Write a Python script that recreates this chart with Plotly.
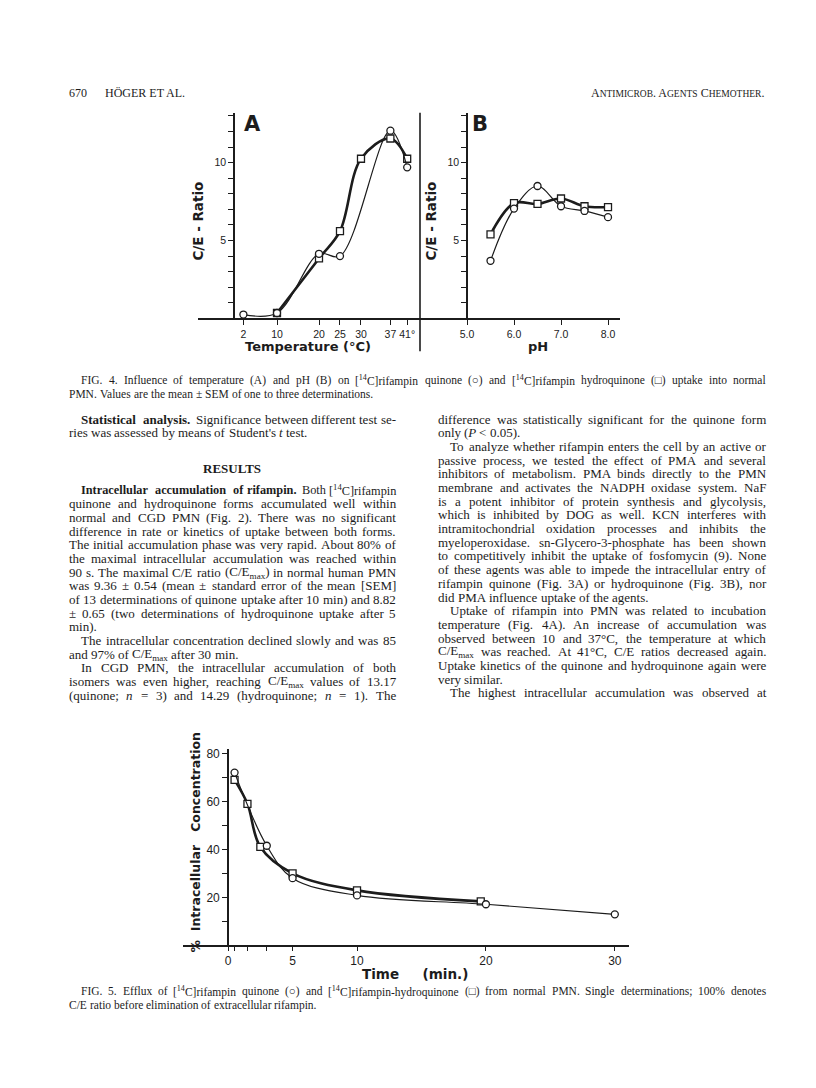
import re
import plotly.graph_objects as go

W, H = 816, 1088

# ---- Fig. 4A: temperature vs C/E ratio ----
temp_quinone = [2, 10, 20, 25, 37, 41]
ce_temp_quinone = [0.25, 0.35, 4.15, 4.0, 12.05, 9.7]
temp_hydro = [10, 20, 25, 30, 37, 41]
ce_temp_hydro = [0.35, 3.85, 5.6, 10.25, 11.55, 10.25]
temp_ticks = [2, 10, 20, 25, 30, 37, 41]
temp_ticktext = ["2", "10", "20", "25", "30", "37", "41°"]

# ---- Fig. 4B: pH vs C/E ratio ----
ph_vals = [5.5, 6.0, 6.5, 7.0, 7.5, 8.0]
ce_ph_quinone = [3.7, 7.05, 8.5, 7.2, 6.9, 6.5]
ce_ph_hydro = [5.4, 7.4, 7.35, 7.7, 7.2, 7.15]
ph_ticks = [5, 6, 7, 8]
ph_ticktext = ["5.0", "6.0", "7.0", "8.0"]

# ---- Fig. 5: efflux ----
time_quinone = [0.5, 3, 5, 10, 20, 30]
pct_quinone = [72, 41.5, 28, 20.8, 17.1, 12.9]
time_hydro = [0.5, 1.5, 2.5, 5, 10, 19.6]
pct_hydro = [69, 59, 41, 30, 22.9, 18.3]
time_ticks = [0, 5, 10, 20, 30]
time_minor = [0.5, 1.5, 3]

ce_ticks = [5, 10]
ce_minor = [1, 2, 3, 4, 6, 7, 8, 9, 11, 12, 13]
pct_ticks = [20, 40, 60, 80]
pct_minor = [10, 30, 50, 70]


def fx(x):
    return x / W


def fy(y):
    return 1 - y / H


INK = "#1c1c1c"
SANS = "DejaVu Sans"
TICKFONT = "Liberation Sans"
SERIF = "Liberation Serif"

fig = go.Figure()


def add_pair(xq, yq, xh, yh, xa, ya):
    # hydroquinone: heavy line + open squares
    fig.add_trace(go.Scatter(
        x=xh, y=yh, xaxis=xa, yaxis=ya, mode="lines+markers",
        line=dict(color=INK, width=2.6, shape="spline", smoothing=1.0),
        marker=dict(symbol="square", size=7, color="white",
                    line=dict(color=INK, width=1.3)),
        showlegend=False))
    # quinone: thin line + open circles
    fig.add_trace(go.Scatter(
        x=xq, y=yq, xaxis=xa, yaxis=ya, mode="lines+markers",
        line=dict(color=INK, width=1.2, shape="spline", smoothing=1.0),
        marker=dict(symbol="circle", size=7, color="white",
                    line=dict(color=INK, width=1.3)),
        showlegend=False))


add_pair(temp_quinone, ce_temp_quinone, temp_hydro, ce_temp_hydro, "x", "y")
add_pair(ph_vals, ce_ph_quinone, ph_vals, ce_ph_hydro, "x2", "y2")
add_pair(time_quinone, pct_quinone, time_hydro, pct_hydro, "x3", "y3")


def axis(size=11, minor_vals=None, ticklen=5, **kw):
    d = dict(showgrid=False, zeroline=False, showline=True,
             linecolor=INK, linewidth=1.6, ticks="outside",
             tickcolor=INK, tickwidth=1.3, ticklen=ticklen, tickangle=0,
             tickfont=dict(family=TICKFONT, size=size, color=INK))
    if minor_vals is not None:
        d["minor"] = dict(tickmode="array", tickvals=minor_vals,
                          ticks="outside", ticklen=ticklen, tickwidth=1.3,
                          tickcolor=INK, showgrid=False)
    d.update(kw)
    return d


fig4_dom = [fy(309), fy(103)]

fig.update_layout(
    width=W, height=H,
    margin=dict(l=0, r=0, t=0, b=0),
    paper_bgcolor="white", plot_bgcolor="rgba(0,0,0,0)",
    xaxis=axis(10.5, domain=[fx(190), fx(412)], range=[-8.81, 44.05],
               tickvals=temp_ticks, ticktext=temp_ticktext, anchor="y"),
    yaxis=axis(10.5, ce_minor, domain=fig4_dom, range=[0, 13.2],
               anchor="free", position=fx(226), tickvals=ce_ticks),
    xaxis2=axis(10.5, domain=[fx(412), fx(612)], range=[4.0, 8.255],
                tickvals=ph_ticks, ticktext=ph_ticktext, anchor="y2"),
    yaxis2=axis(10.5, ce_minor, domain=fig4_dom, range=[0, 13.2],
                anchor="free", position=fx(459), tickvals=ce_ticks),
    xaxis3=axis(12, time_minor, 4, domain=[fx(175), fx(621)],
                range=[-3.5, 31.1], tickvals=time_ticks, anchor="y3"),
    yaxis3=axis(12, pct_minor, domain=[fy(937), fy(740)], range=[0, 82],
                anchor="free", position=fx(220), tickvals=pct_ticks),
)

# divider between panels A and B
fig.add_shape(type="line", xref="paper", yref="paper",
              x0=fx(412), x1=fx(412), y0=fy(103), y1=fy(342),
              line=dict(color=INK, width=1.6))

annots = []


def txt(x, y, s, size=13, family=SERIF, anchor="left", angle=0, bold=False):
    if bold:
        s = "<b>" + s + "</b>"
    annots.append(dict(x=fx(x), y=fy(y), xref="paper", yref="paper",
                       text=s, showarrow=False, xanchor=anchor,
                       yanchor="middle", textangle=angle, borderpad=0,
                       font=dict(family=family, size=size, color=INK)))


# Times (Liberation Serif) advance widths, 1/1000 em
REG = {" ": 250, "%": 833, "'": 180, "(": 333, ")": 333, ",": 250,
       "-": 333, ".": 250, "/": 278, ":": 278, ";": 278, "<": 564,
       "=": 564, "[": 333, "]": 333, "±": 564, "°": 400, "○": 600,
       "□": 600}
REG.update({d: 500 for d in "0123456789"})
REG.update(dict(zip("ABCDEFGHIJKLMNOPQRSTUVWXYZ",
                    [722, 667, 667, 722, 611, 556, 722, 722, 333, 389, 722,
                     611, 889, 722, 722, 556, 722, 667, 556, 611, 722, 722,
                     944, 722, 722, 611])))
REG.update(dict(zip("abcdefghijklmnopqrstuvwxyz",
                    [444, 500, 444, 500, 444, 333, 500, 500, 278, 278, 500,
                     278, 778, 500, 500, 500, 500, 333, 389, 278, 500, 500,
                     722, 500, 500, 444])))
BOLD = dict(zip("abcdefghijklmnopqrstuvwxyz",
                [500, 556, 444, 556, 444, 333, 500, 556, 278, 333, 556, 278,
                 833, 556, 500, 556, 556, 444, 389, 333, 556, 500, 722, 500,
                 500, 444]))
BOLD.update({"I": 389, "S": 556})


def text_width(w, size):
    total, bold, small = 0.0, False, False
    for tok in re.split(r"(<[^>]+>)", w):
        if tok.startswith("<"):
            tag = tok.strip("</>")
            closing = tok.startswith("</")
            if tag == "b":
                bold = not closing
            elif tag in ("sub", "sup"):
                small = not closing
            continue
        for ch in tok.replace("&lt;", "<"):
            if bold:
                cw = BOLD.get(ch, REG.get(ch, 500)) * 1.06
            else:
                cw = REG.get(ch, 500)
            total += cw * (0.7 if small else 1.0)
    return total * size / 1000


def words_of(line):
    out, open_tags = [], []
    for w in line.split(" "):
        if not w:
            continue
        prefix = "".join("<%s>" % t for t in open_tags)
        for m in re.finditer(r"<(/?)(b|i)>", w):
            if m.group(1):
                open_tags.remove(m.group(2))
            else:
                open_tags.append(m.group(2))
        suffix = "".join("</%s>" % t for t in reversed(open_tags))
        out.append(prefix + w + suffix)
    return out


def set_line(x0, x1, y, line, size=13, justify=True):
    words = words_of(line)
    n = len(words)
    if justify and n > 1:
        # shrink a too-long line a little so that word gaps stay visible
        while sum(text_width(w, size) for w in words) + \
                0.22 * size * (n - 1) > x1 - x0:
            size -= 0.1
    widths = [text_width(w, size) for w in words]
    gap = 0.25 * size
    if justify and n > 1:
        gap = (x1 - x0 - sum(widths)) / (n - 1)
    x = x0
    for w, wd in zip(words, widths):
        txt(x, y, w, size=size)
        x += wd + gap


# figure labels
txt(244, 114, "A", size=21, family=SANS, anchor="center", bold=True)
txt(472, 114, "B", size=21, family=SANS, anchor="center", bold=True)
txt(190, 212, "C/E - Ratio", size=13.5, family=SANS, anchor="center",
    angle=-90, bold=True)
txt(423, 212, "C/E - Ratio", size=13.5, family=SANS, anchor="center",
    angle=-90, bold=True)
txt(300, 337, "Temperature (°C)", size=13, family=SANS, anchor="center",
    bold=True)
txt(530, 337, "pH", size=13, family=SANS, anchor="center", bold=True)
txt(187, 834, "%  Intracellular   Concentration", size=12.5, family=SANS,
    anchor="center", angle=-90, bold=True)
txt(407, 966, "Time     (min.)", size=13.5, family=SANS, anchor="center",
    bold=True)

# running head
txt(60, 83, "670", size=12)
txt(96, 83, "HÖGER ET AL.", size=12)
txt(757, 83, "A<span style='font-size:9.5px'>NTIMICROB</span>. "
    "A<span style='font-size:9.5px'>GENTS</span> "
    "C<span style='font-size:9.5px'>HEMOTHER</span>.", size=12, anchor="right")

# captions
C14 = "[<sup>14</sup>C]"
set_line(72, 757, 371, "FIG. 4. Influence of temperature (A) and pH (B) on " +
         C14 + "rifampin quinone (○) and " + C14 +
         "rifampin hydroquinone (□) uptake into normal", size=11.5)
set_line(60, 757, 385, "PMN. Values are the mean ± SEM of one to three "
         "determinations.", size=11.5, justify=False)
set_line(72, 757, 983, "FIG. 5. Efflux of " + C14 + "rifampin quinone (○) and " +
         C14 + "rifampin-hydroquinone (□) from normal PMN. Single "
         "determinations; 100% denotes", size=11.5)
set_line(60, 757, 997, "C/E ratio before elimination of extracellular "
         "rifampin.", size=11.5, justify=False)

# body text
LH = 13.7
CE = "C/E<sub>max</sub>"
LX0, LX1 = 60, 387
RX0, RX1 = 429, 757
IND = 12

set_line(LX0 + IND, LX1, 410, "<b>Statistical analysis.</b> Significance "
         "between different test se-")
set_line(LX0, LX1, 410 + LH, "ries was assessed by means of Student's "
         "<i>t</i> test.", justify=False)
txt(224, 459, "RESULTS", anchor="center", bold=True)

left_lines = [
    (IND, "<b>Intracellular accumulation of rifampin.</b> Both " + C14 + "rifampin", True),
    (0, "quinone and hydroquinone forms accumulated well within", True),
    (0, "normal and CGD PMN (Fig. 2). There was no significant", True),
    (0, "difference in rate or kinetics of uptake between both forms.", True),
    (0, "The initial accumulation phase was very rapid. About 80% of", True),
    (0, "the maximal intracellular accumulation was reached within", True),
    (0, "90 s. The maximal C/E ratio (" + CE + ") in normal human PMN", True),
    (0, "was 9.36 ± 0.54 (mean ± standard error of the mean [SEM]", True),
    (0, "of 13 determinations of quinone uptake after 10 min) and 8.82", True),
    (0, "± 0.65 (two determinations of hydroquinone uptake after 5", True),
    (0, "min).", False),
    (IND, "The intracellular concentration declined slowly and was 85", True),
    (0, "and 97% of " + CE + " after 30 min.", False),
    (IND, "In CGD PMN, the intracellular accumulation of both", True),
    (0, "isomers was even higher, reaching " + CE + " values of 13.17", True),
    (0, "(quinone; <i>n</i> = 3) and 14.29 (hydroquinone; <i>n</i> = 1). The", True),
]
for i, (ind, s, just) in enumerate(left_lines):
    set_line(LX0 + ind, LX1, 481 + i * LH, s, justify=just)

right_lines = [
    (0, "difference was statistically significant for the quinone form", True),
    (0, "only (<i>P</i> &lt; 0.05).", False),
    (IND, "To analyze whether rifampin enters the cell by an active or", True),
    (0, "passive process, we tested the effect of PMA and several", True),
    (0, "inhibitors of metabolism. PMA binds directly to the PMN", True),
    (0, "membrane and activates the NADPH oxidase system. NaF", True),
    (0, "is a potent inhibitor of protein synthesis and glycolysis,", True),
    (0, "which is inhibited by DOG as well. KCN interferes with", True),
    (0, "intramitochondrial oxidation processes and inhibits the", True),
    (0, "myeloperoxidase. sn-Glycero-3-phosphate has been shown", True),
    (0, "to competitively inhibit the uptake of fosfomycin (9). None", True),
    (0, "of these agents was able to impede the intracellular entry of", True),
    (0, "rifampin quinone (Fig. 3A) or hydroquinone (Fig. 3B), nor", True),
    (0, "did PMA influence uptake of the agents.", False),
    (IND, "Uptake of rifampin into PMN was related to incubation", True),
    (0, "temperature (Fig. 4A). An increase of accumulation was", True),
    (0, "observed between 10 and 37°C, the temperature at which", True),
    (0, CE + " was reached. At 41°C, C/E ratios decreased again.", True),
    (0, "Uptake kinetics of the quinone and hydroquinone again were", True),
    (0, "very similar.", False),
    (IND, "The highest intracellular accumulation was observed at", True),
]
for i, (ind, s, just) in enumerate(right_lines):
    set_line(RX0 + ind, RX1, 410 + i * LH, s, justify=just)

fig.update_layout(annotations=annots)

fig.write_html("out.html")
